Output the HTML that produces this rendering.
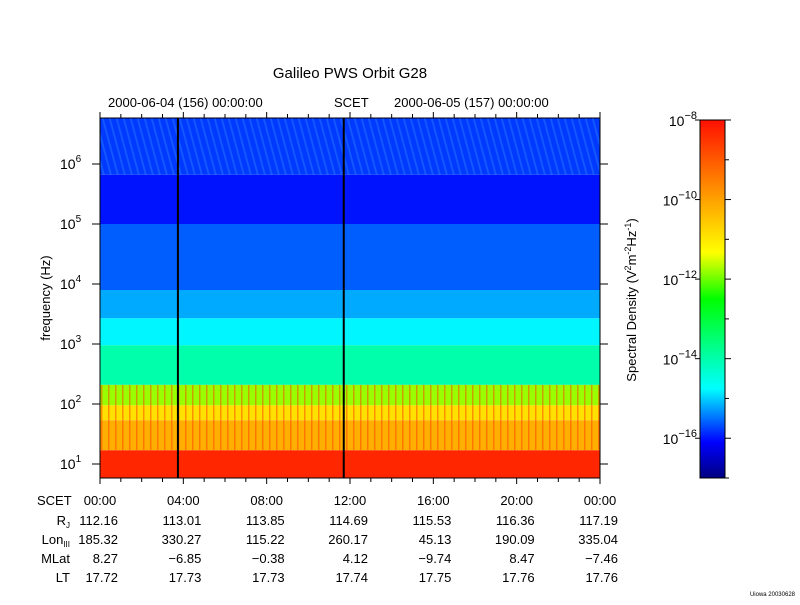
<!DOCTYPE html>
<html><head><meta charset="utf-8"><style>
body{margin:0;background:#fff}
svg text{font-family:"Liberation Sans",sans-serif;fill:#000}
</style></head><body>
<svg id="s" width="800" height="600">
<defs>
<linearGradient id="cb" x1="0" y1="1" x2="0" y2="0">
<stop offset="0" stop-color="#000080"/><stop offset="0.1" stop-color="#0000ff"/>
<stop offset="0.25" stop-color="#00ffff"/><stop offset="0.36" stop-color="#00ff90"/>
<stop offset="0.5" stop-color="#00ff00"/><stop offset="0.63" stop-color="#ffff00"/>
<stop offset="0.78" stop-color="#ffa000"/><stop offset="1" stop-color="#ff1000"/></linearGradient>
<pattern id="streak" width="7" height="60" patternUnits="userSpaceOnUse" patternTransform="skewX(15)">
<rect x="0" y="0" width="2" height="60" fill="#40a0ff" opacity="0.3"/></pattern>
<pattern id="spikes" width="7" height="20" patternUnits="userSpaceOnUse">
<rect x="3" y="0" width="1.5" height="20" fill="#ff4000" opacity="0.5"/></pattern>
</defs>
<text x="350" y="78" font-size="15" text-anchor="middle">Galileo PWS Orbit G28</text>
<text x="108" y="107" font-size="13">2000-06-04 (156) 00:00:00</text>
<text x="334" y="107" font-size="13">SCET</text>
<text x="394" y="107" font-size="13">2000-06-05 (157) 00:00:00</text>
<g id="plot"></g>
<g id="axes"></g>
<rect x="700" y="120" width="25" height="358" fill="url(#cb)" stroke="#000"/>
<g id="cbax"></g>
<text transform="translate(636,300) rotate(-90)" font-size="13" text-anchor="middle">Spectral Density (V<tspan font-size="9" dy="-5">2</tspan><tspan dy="5">m</tspan><tspan font-size="9" dy="-5">-2</tspan><tspan dy="5">Hz</tspan><tspan font-size="9" dy="-5">-1</tspan><tspan dy="5">)</tspan></text>
<text transform="translate(50,298) rotate(-90)" font-size="13" text-anchor="middle">frequency (Hz)</text>
<g id="tbl"></g>
<text x="795" y="596" font-size="6" text-anchor="end">Uiowa 20030628</text>
</svg>
<script>
const bandLogF = [0.77,1.23,1.73,1.98,2.32,2.98,3.43,3.9,5.0,5.82,6.77];
const bandLevel = [-8.3,-10.2,-10.9,-11.8,-14.0,-14.8,-15.2,-15.6,-16.0,-15.8];
const markerHours = [3.74,11.7];
const yTicks = [1,2,3,4,5,6];
const cbTicks = [-8,-10,-12,-14,-16];
const cbMinor = [-9,-11,-13,-15,-17];
const rowLabels = ["SCET","R","Lon","MLat","LT"];
const timeLabels = ["00:00","04:00","08:00","12:00","16:00","20:00","00:00"];
const rj = ["112.16","113.01","113.85","114.69","115.53","116.36","117.19"];
const lon = ["185.32","330.27","115.22","260.17","45.13","190.09","335.04"];
const mlat = ["8.27","\u22126.85","\u22120.38","4.12","\u22129.74","8.47","\u22127.46"];
const lt = ["17.72","17.73","17.73","17.74","17.75","17.76","17.76"];
const NS='http://www.w3.org/2000/svg';
const X0=100,X1=600,Y0=118,Y1=478;
const xs=h=>X0+h/24*(X1-X0);
const ys=lf=>464-60*(lf-1);
const cbY=v=>478-(v+17)/9*358;
const stops=[[0,[0,0,128]],[0.1,[0,0,255]],[0.25,[0,255,255]],[0.36,[0,255,144]],[0.5,[0,255,0]],[0.63,[255,255,0]],[0.78,[255,160,0]],[1,[255,16,0]]];
function cmap(v){let t=Math.max(0,Math.min(1,(v+17)/9));for(let i=1;i<stops.length;i++){if(t<=stops[i][0]){const a=stops[i-1],b=stops[i],f=(t-a[0])/(b[0]-a[0]);return 'rgb('+a[1].map((c,k)=>Math.round(c+(b[1][k]-c)*f)).join(',')+')';}}return 'rgb(255,16,0)';}
function el(t,a,p){const e=document.createElementNS(NS,t);for(const k in a)e.setAttribute(k,a[k]);p.appendChild(e);return e;}
const plot=document.getElementById('plot');
for(let i=0;i<bandLevel.length;i++){
 const ya=Math.max(Y0,ys(bandLogF[i+1])),yb=Math.min(Y1,ys(bandLogF[i]));
 const r=el('rect',{x:X0,y:ya,width:X1-X0,height:yb-ya,fill:cmap(bandLevel[i])},plot);
 
 
}
const st=el('rect',{x:X0,y:Y0,width:X1-X0,height:ys(5.82)-Y0,fill:'url(#streak)'},plot);


const sp=el('rect',{x:X0,y:ys(2.32),width:X1-X0,height:ys(1.23)-ys(2.32),fill:'url(#spikes)'},plot);


const ax=document.getElementById('axes');
markerHours.forEach(h=>{const l=el('line',{x1:xs(h),x2:xs(h),y1:Y0,y2:Y1,stroke:'#000','stroke-width':2},ax);
 
 });
const fr=el('rect',{x:X0,y:Y0,width:X1-X0,height:Y1-Y0,fill:'none',stroke:'#000'},ax);


for(let h=0;h<=24;h++){const x=xs(h),L=h%4==0?6:4;
 el('line',{x1:x,x2:x,y1:Y0,y2:Y0-L,stroke:'#000'},ax);el('line',{x1:x,x2:x,y1:Y1,y2:Y1+L,stroke:'#000'},ax);}
yTicks.forEach(p=>{const y=ys(p);
 el('line',{x1:X0-8,x2:X0,y1:y,y2:y,stroke:'#000'},ax);el('line',{x1:X1,x2:X1+8,y1:y,y2:y,stroke:'#000'},ax);
 const t=el('text',{x:60,y:y+5,'font-size':14},ax);t.innerHTML='10<tspan font-size="10" dy="-7">'+p+'</tspan>';
 
 });
const cb=document.getElementById('cbax');
cbTicks.forEach(v=>{const y=cbY(v);el('line',{x1:695,x2:700,y1:y,y2:y,stroke:'#000'},cb);el('line',{x1:725,x2:731,y1:y,y2:y,stroke:'#000'},cb);
 const t=el('text',{x:697,y:y+6,'font-size':14,'text-anchor':'end'},cb);t.innerHTML='10<tspan font-size="11" dy="-7">\u2212'+(-v)+'</tspan>';
 
 });
cbMinor.forEach(v=>{const y=cbY(v);el('line',{x1:725,x2:729,y1:y,y2:y,stroke:'#000'},cb);});
const tb=document.getElementById('tbl');
const rows=[timeLabels,rj,lon,mlat,lt],rowY=[505,525,544,563,582];
rowLabels.forEach((n,i)=>{const t=el('text',{x:i==0?37:70,y:rowY[i],'font-size':13,'text-anchor':i==0?'start':'end'},tb);
 t.innerHTML=n=='R'?'R<tspan font-size="8" dy="3">J</tspan>':n=='Lon'?'Lon<tspan font-size="8" dy="3">III</tspan>':n;
 
 
 rows[i].forEach((v,j)=>{const c=el('text',{x:xs(j*4)+(i==0?0:18),y:rowY[i],'font-size':13,'text-anchor':i==0?'middle':'end'},tb);c.textContent=v;
 
 });});
</script>
</body></html>
